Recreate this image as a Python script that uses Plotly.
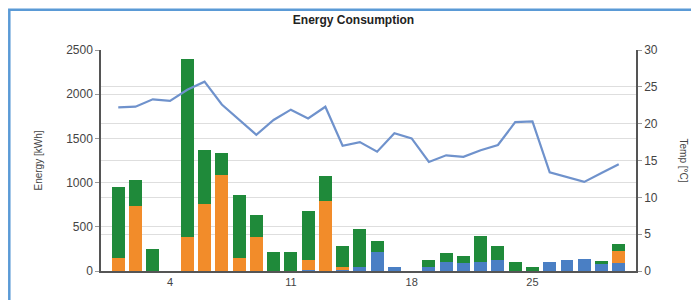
import plotly.graph_objects as go

days = list(range(1, 31))
blue = [0, 0, 0, 0, 0, 0, 0, 0, 0, 0, 0, 15, 0, 10, 45, 220, 50, 0, 40, 100,
        90, 100, 130, 0, 0, 100, 130, 135, 80, 90]
orange = [150, 730, 0, 0, 380, 760, 1090, 150, 380, 0, 0, 115, 790, 35, 0, 0, 0, 0, 0, 0,
          0, 0, 0, 0, 0, 0, 0, 0, 0, 140]
green = [800, 300, 250, 0, 2020, 610, 240, 710, 250, 210, 210, 550, 290, 235, 425, 120, 0, 0, 80, 100,
         75, 300, 150, 100, 45, 0, 0, 0, 30, 70]
temp = [22.2, 22.3, 23.3, 23.1, 24.6, 25.7, 22.6, 20.5, 18.5, 20.5, 21.9, 20.7, 22.3, 17.0, 17.5,
        16.2, 18.7, 18.0, 14.8, 15.7, 15.5, 16.4, 17.1, 20.2, 20.3, 13.4, 12.8, 12.1, 13.3, 14.5]
x_ticks = [4, 11, 18, 25]

C_BLUE = "#4a7fc4"
C_ORANGE = "#f28c2a"
C_GREEN = "#1f8a3a"
C_LINE = "#6f92cc"
FONT = "Liberation Sans, Arial, sans-serif"

fig = go.Figure()
fig.add_bar(x=days, y=blue, marker_color=C_BLUE, marker_line_width=0, showlegend=False)
fig.add_bar(x=days, y=orange, marker_color=C_ORANGE, marker_line_width=0, showlegend=False)
fig.add_bar(x=days, y=green, marker_color=C_GREEN, marker_line_width=0, showlegend=False)
fig.add_scatter(x=days, y=temp, yaxis="y2", mode="lines",
                line=dict(color=C_LINE, width=2.2), showlegend=False)

# page body margin offsets the figure by 8px; work in screen pixels
OFF = 8
SW, SH = 699, 300
W, H = SW - OFF, SH - OFF
L, R, T, B = 101 - OFF, SW - 636, 50 - OFF, SH - 274
pw, ph = W - L - R, H - T - B

def px(x):
    return (x - OFF - L) / pw

def py(y):
    return (H - B - (y - OFF)) / ph

fig.update_layout(
    width=W, height=H,
    margin=dict(l=L, r=R, t=T, b=B, pad=0),
    barmode="stack", bargap=0.25,
    paper_bgcolor="white", plot_bgcolor="white",
    font=dict(family=FONT, size=11, color="#444"),
    title=dict(text="<b>Energy Consumption</b>", x=0.5, xanchor="center",
               y=1 - (20 - OFF) / H, yanchor="middle",
               font=dict(family=FONT, size=12, color="#222")),
    xaxis=dict(range=[0, 31], tickvals=x_ticks, showgrid=False,
               showline=True, linecolor="#555", linewidth=1.5,
               ticks="", ticklen=0, zeroline=False,
               tickfont=dict(size=11, color="#444")),
    yaxis=dict(range=[0, 2500], dtick=500, showgrid=True, gridcolor="#dedede",
               gridwidth=1, showline=True, linecolor="#555", linewidth=1.5,
               ticks="outside", ticklen=4, tickcolor="#999", zeroline=False,
               tickfont=dict(size=12, color="#444"),
               title=dict(text="Energy [kWh]", font=dict(size=10, color="#444"),
                          standoff=22)),
    yaxis2=dict(range=[0, 30], dtick=5, overlaying="y", side="right",
                showgrid=True, gridcolor="#dedede", gridwidth=1,
                showline=True, linecolor="#555", linewidth=1.5,
                ticks="outside", ticklen=4, tickcolor="#999", zeroline=False,
                tickfont=dict(size=12, color="#444")),
    shapes=[dict(type="rect", xref="paper", yref="paper",
                 x0=px(9.3), x1=px(712), y0=py(312), y1=py(9.3),
                 line=dict(color="#5a9ad6", width=2.5), layer="below")],
    annotations=[dict(text="Temp [°C]", textangle=90, xref="paper", yref="paper",
                      x=px(683), y=py(162), xanchor="center", yanchor="middle",
                      showarrow=False, font=dict(size=10, color="#444"))],
)

fig.write_html("out.html")
